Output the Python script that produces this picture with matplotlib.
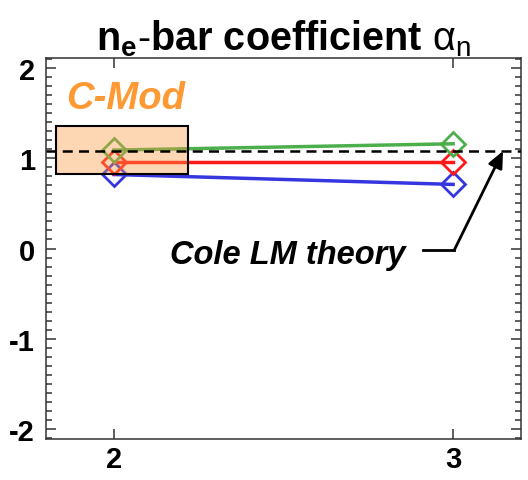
import matplotlib.pyplot as plt
import numpy as np
from matplotlib.patches import Rectangle
from matplotlib.ticker import MultipleLocator

plt.rcParams['font.family'] = ['Liberation Sans', 'DejaVu Sans']
plt.rcParams['axes.unicode_minus'] = False
plt.rcParams['mathtext.fontset'] = 'custom'
plt.rcParams['mathtext.rm'] = 'Liberation Sans'
plt.rcParams['mathtext.bf'] = 'Liberation Sans:bold'
plt.rcParams['mathtext.it'] = 'Liberation Sans:italic'

# ---- data --------------------------------------------------------------------
x = [2, 3]
green = [1.09, 1.16]
red = [0.96, 0.96]
blue = [0.82, 0.71]
theory = 1.08

box_x = [1.83, 2.22]
box_y = [0.825, 1.36]

# ---- plot --------------------------------------------------------------------
fig = plt.figure(figsize=(5.28, 4.81), dpi=100)
ax = fig.add_axes([0.0871, 0.0852, 0.8996, 0.7921])

for ys, col in [(blue, '#3636e0'), (red, '#ff1a1a'), (green, '#4caf4c')]:
    ax.plot(x, ys, color=col, lw=2.5, marker='D', ms=12, mfc='none', mew=2)

ax.add_patch(Rectangle((box_x[0], box_y[0]), box_x[1] - box_x[0], box_y[1] - box_y[0],
                       facecolor=(0.98, 0.6, 0.27, 0.4), edgecolor='black', lw=1.5,
                       zorder=3))
ax.axhline(theory, color='black', lw=1.8, ls=(0, (4, 2.5)), zorder=4)

ax.text(1.858, 1.67, 'C-Mod', color='#ff9933', fontsize=27.5, fontweight='bold',
        fontstyle='italic', ha='left', va='center')
ax.text(2.86, -0.07, 'Cole LM theory', fontsize=23.5, fontweight='bold',
        fontstyle='italic', ha='right', va='center')
ax.plot([2.91, 3.003], [-0.02, -0.02], color='black', lw=2)
ax.annotate('', xy=(3.147, theory), xytext=(3.003, -0.02),
            arrowprops=dict(arrowstyle='-|>,head_length=1.0,head_width=0.45',
                            color='black', lw=2, shrinkA=0, shrinkB=0))

ax.set_xlim(1.8, 3.2)
ax.set_ylim(-2.11, 2.11)
ax.set_xticks([2, 3])
ax.set_yticks([-2, -1, 0, 1, 2])
ax.yaxis.set_minor_locator(MultipleLocator(0.1))
ax.tick_params(which='both', direction='in', top=True, right=True, width=1.1,
               color='#333333', labelsize=21)
ax.tick_params(which='major', length=7)
ax.tick_params(which='minor', length=4.5)
ax.tick_params(axis='x', pad=4)
ax.tick_params(axis='y', pad=8)
for lab in ax.get_xticklabels() + ax.get_yticklabels():
    lab.set_fontweight('bold')
for sp in ax.spines.values():
    sp.set_color('#333333')
    sp.set_linewidth(1.1)

ax.set_title(r'$\mathbf{n}_\mathbf{e}\mathbf{\text{-}bar\ coefficient}\ \mathrm{\alpha}_\mathrm{n}$',
             fontsize=28.5, pad=4)

plt.savefig('out.png', dpi=100)
